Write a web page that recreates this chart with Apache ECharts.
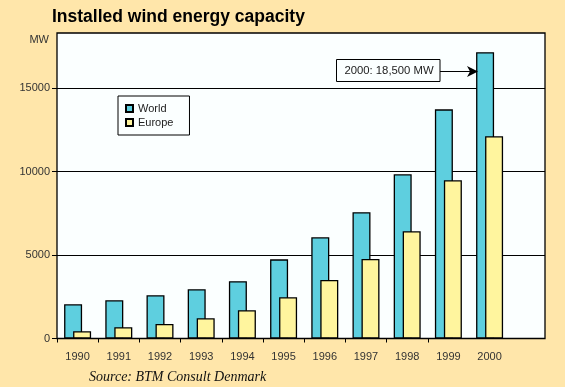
<!DOCTYPE html>
<html>
<head>
<meta charset="utf-8">
<script src="https://cdn.jsdelivr.net/npm/echarts@6/dist/echarts.min.js"></script>
<style>
html,body{margin:0;padding:0;background:#FFE6AA;}
#chart{width:565px;height:387px;}
</style>
</head>
<body>
<div id="chart"></div>
<script>
var years = ['1990','1991','1992','1993','1994','1995','1996','1997','1998','1999','2000'];
var world = [2050, 2290, 2590, 2950, 3430, 4740, 6060, 7560, 9830, 13720, 17140];
var europe = [430, 670, 870, 1210, 1690, 2470, 3500, 4760, 6420, 9470, 12110];
var yTicks = [0, 5000, 10000, 15000];

var chart = echarts.init(document.getElementById('chart'));
var FONT = '"Liberation Sans", Arial, sans-serif';
function pairs(arr){ return arr.map(function(v,i){ return [i+0.5, v]; }); }
var labelPos = years.map(function(y,i){ return i+0.5; });
var tickPos = years.slice(0,10).map(function(y,i){ return i; });

chart.setOption({
  backgroundColor: '#FFE6AA',
  animation: false,
  grid: {
    left: 57, top: 33, right: 20, bottom: 48.5,
    show: true, backgroundColor: '#FBFFFF', borderColor: '#000', borderWidth: 1.3
  },
  legend: {
    data: ['World','Europe'],
    orient: 'vertical', left: 118, top: 96,
    itemWidth: 7, itemHeight: 7, itemGap: 3,
    padding: [7, 16, 7, 7],
    backgroundColor: '#FBFFFF', borderColor: '#000', borderWidth: 1,
    icon: 'rect',
    textStyle: { fontFamily: 'Liberation Sans', fontSize: 11, color: '#222' }
  },
  xAxis: {
    type: 'value', min: 0, max: 11.845,
    axisLine: { show: false },
    splitLine: { show: false },
    axisTick: { show: true, length: 4, customValues: tickPos, lineStyle: { color: '#000', width: 1 } },
    axisLabel: {
      customValues: labelPos,
      formatter: function(v){ return years[Math.round(v-0.5)] || ''; },
      fontFamily: 'Liberation Sans', fontSize: 11, color: '#333', margin: 13
    }
  },
  yAxis: {
    type: 'value', min: 0, max: 18290,
    axisLine: { show: false },
    axisTick: { show: true, length: 5, customValues: yTicks, lineStyle: { color: '#000', width: 1 } },
    axisLabel: { customValues: yTicks, formatter: function(v){ return String(v); },
      fontFamily: 'Liberation Sans', fontSize: 11, color: '#333', margin: 7 },
    splitLine: { show: true, lineStyle: { color: '#000', width: 1 } }
  },
  series: [
    { name: 'World', type: 'bar', data: pairs(world), barWidth: 18, barGap: '-50%',
      itemStyle: { color: '#5ECFDF', borderColor: '#000', borderWidth: 1.3 } },
    { name: 'Europe', type: 'bar', data: pairs(europe), barWidth: 18, barGap: '-50%',
      itemStyle: { color: '#FFF59E', borderColor: '#000', borderWidth: 1.3 } }
  ],
  graphic: [
    { type: 'text', left: 52, top: 8, style: { text: 'Installed wind energy capacity', font: 'bold 17.5px ' + FONT, fill: '#000' } },
    { type: 'text', x: 49, y: 40, style: { text: 'MW', font: '11px ' + FONT, fill: '#333', align: 'right', verticalAlign: 'middle' } },
    { type: 'rect', shape: { x: 336.5, y: 59.5, width: 103.5, height: 22 }, style: { fill: '#FBFFFF', stroke: '#000', lineWidth: 1 }, z: 10 },
    { type: 'text', x: 389, y: 71, style: { text: '2000: 18,500 MW', font: '11.3px ' + FONT, fill: '#222', align: 'center', verticalAlign: 'middle' }, z: 11 },
    { type: 'line', shape: { x1: 440, y1: 71.5, x2: 470, y2: 71.5 }, style: { stroke: '#000', lineWidth: 1 }, z: 10 },
    { type: 'polygon', shape: { points: [[467, 66], [478, 71.5], [467, 77], [470, 71.5]] }, style: { fill: '#000' }, z: 10 },
    { type: 'text', x: 89, y: 377, style: { text: 'Source: BTM Consult Denmark', font: 'italic 14px "Liberation Serif", "Times New Roman", serif', fill: '#111', verticalAlign: 'middle' } }
  ]
});
</script>
</body>
</html>
